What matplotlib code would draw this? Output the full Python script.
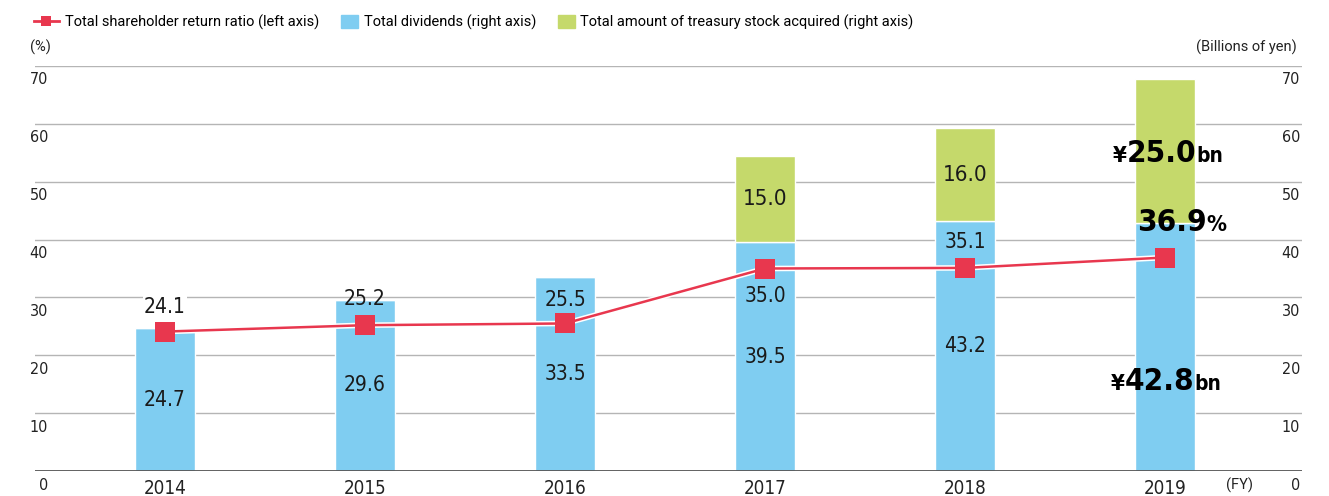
import matplotlib
matplotlib.use("Agg")
import matplotlib.pyplot as plt
import matplotlib.patheffects as pe
from matplotlib.lines import Line2D
from matplotlib.patches import Patch, Rectangle
from matplotlib.legend_handler import HandlerPatch
from matplotlib.transforms import offset_copy
from matplotlib.offsetbox import TextArea, HPacker, AnnotationBbox

years = ["2014", "2015", "2016", "2017", "2018", "2019"]
dividends = [24.7, 29.6, 33.5, 39.5, 43.2, 42.8]
treasury = [0, 0, 0, 15.0, 16.0, 25.0]
return_ratio = [24.1, 25.2, 25.5, 35.0, 35.1, 36.9]
ticks = [0, 10, 20, 30, 40, 50, 60, 70]

# label offsets above/below the markers (points), last one is drawn big
ratio_offsets = [18, 19, 17, -20, 19]

BLUE = "#7fcdf1"
GREEN = "#c5d96b"
RED = "#e8374e"
PLAIN = ["Roboto", "DejaVu Sans"]
NUM = dict(family="DejaVu Sans", stretch="condensed")

W, H = 1329, 496
fig = plt.figure(figsize=(W / 100, H / 100), dpi=100)
ax = fig.add_axes([35 / W, 1 - 471 / H, (1302 - 35) / W, (471 - 66) / H])
ax_line = ax.twinx()

x = list(range(len(years)))
ax.bar(x, dividends, width=0.3, color=BLUE, edgecolor="white", linewidth=1, zorder=2)
ax.bar(x, treasury, width=0.3, bottom=dividends, color=GREEN, edgecolor="white",
       linewidth=1, zorder=2)

ax_line.plot(x, return_ratio, color=RED, lw=1.8, zorder=3,
             path_effects=[pe.Stroke(linewidth=4, foreground="white"), pe.Normal()])
ax_line.plot(x, return_ratio, ls="none", color=RED, marker="s", markersize=14.4,
             markeredgewidth=0, zorder=3)

for a in (ax, ax_line):
    a.set_xlim(-0.65, 5.685)
    a.set_ylim(0, 70)
    a.set_yticks([])
    for s in a.spines.values():
        s.set_visible(False)

for t in ticks[1:]:
    ax.axhline(t, color="#b5b5b5", lw=1, zorder=0)
ax.axhline(0, color="#555555", lw=1.3, zorder=4)

ax.set_xticks(x)
ax.set_xticklabels(years, fontsize=13.5, color="#222222", **NUM)
ax.tick_params(axis="x", length=0, pad=6)

# axis numbers sit just under their gridlines
ytr = offset_copy(ax.get_yaxis_transform(), fig=fig, y=-14, units="dots")
for t in ticks:
    ax.text(0.0103, t, str(t), transform=ytr, ha="right", va="center",
            fontsize=11.5, color="#222222", **NUM)
    ax.text(0.9984, t, str(t), transform=ytr, ha="right", va="center",
            fontsize=11.5, color="#222222", **NUM)
ax.text(0.951, -0.035, "(FY)", transform=ax.transAxes, ha="center", va="center",
        fontsize=10.5, family=PLAIN, color="#222222")

fig.text(30 / W, 1 - 47 / H, "(%)", ha="left", va="center", fontsize=10.5,
         family=PLAIN, color="#222222")
fig.text(1297 / W, 1 - 47 / H, "(Billions of yen)", ha="right", va="center",
         fontsize=10.5, family=PLAIN, color="#222222")

# value labels on the bars
for i in range(len(years) - 1):
    ax.text(i, dividends[i] / 2, f"{dividends[i]:.1f}", ha="center", va="center",
            fontsize=15, color="#1a1a1a", zorder=5, **NUM)
    if treasury[i]:
        ax.text(i, dividends[i] + treasury[i] / 2, f"{treasury[i]:.1f}", ha="center",
                va="center", fontsize=16, color="#1a1a1a", zorder=5, **NUM)
    top = dividends[i] + treasury[i]
    box = None
    if return_ratio[i] + 3 > top:
        box = dict(facecolor="white", edgecolor="none", pad=1)
    ax_line.annotate(f"{return_ratio[i]:.1f}", (i, return_ratio[i]),
                     xytext=(0, ratio_offsets[i]), textcoords="offset points",
                     ha="center", va="center", fontsize=15,
                     color="#1a1a1a", bbox=box, zorder=5, **NUM)


def big_label(axis, xy, offset, parts):
    areas = [TextArea(s, textprops=dict(fontsize=fs, fontweight="bold",
                                        color="black", **NUM))
             for s, fs in parts]
    pack = HPacker(children=areas, align="baseline", pad=0, sep=0)
    ab = AnnotationBbox(pack, xy, xybox=offset, xycoords="data",
                        boxcoords="offset points", frameon=False,
                        box_alignment=(0.5, 0.5), zorder=6)
    axis.add_artist(ab)


last = len(years) - 1
big_label(ax, (last, dividends[last] + treasury[last] / 2), (2, -2),
          [("¥", 16), (f"{treasury[last]:.1f}", 22.5), ("bn", 15)])
big_label(ax, (last, dividends[last] / 2), (1, -25),
          [("¥", 16), (f"{dividends[last]:.1f}", 22.5), ("bn", 15)])
big_label(ax_line, (last, return_ratio[last]), (12, 25),
          [(f"{return_ratio[last]:.1f}", 22.5), ("%", 16)])


def narrow_patch(legend, orig_handle, xdescent, ydescent, width, height, fontsize):
    w = 17 * 72 / fig.dpi
    return Rectangle((-xdescent + width - w, -ydescent), w, height)


handles = [
    Line2D([], [], color=RED, lw=2, marker="s", markersize=7, markeredgewidth=0),
    Patch(color=BLUE),
    Patch(color=GREEN),
]
labels = [
    "Total shareholder return ratio (left axis)",
    "Total dividends (right axis)",
    "Total amount of treasury stock acquired (right axis)",
]
fig.legend(handles, labels, loc="upper left", bbox_to_anchor=(34 / W, 1 - 15 / H),
           ncol=3, frameon=False, prop=dict(family=PLAIN, size=10.5),
           handlelength=1.7, handleheight=1.0, handletextpad=0.4,
           columnspacing=0.96, borderaxespad=0, borderpad=0,
           handler_map={Patch: HandlerPatch(patch_func=narrow_patch)})

fig.savefig("out.png", dpi=100)
